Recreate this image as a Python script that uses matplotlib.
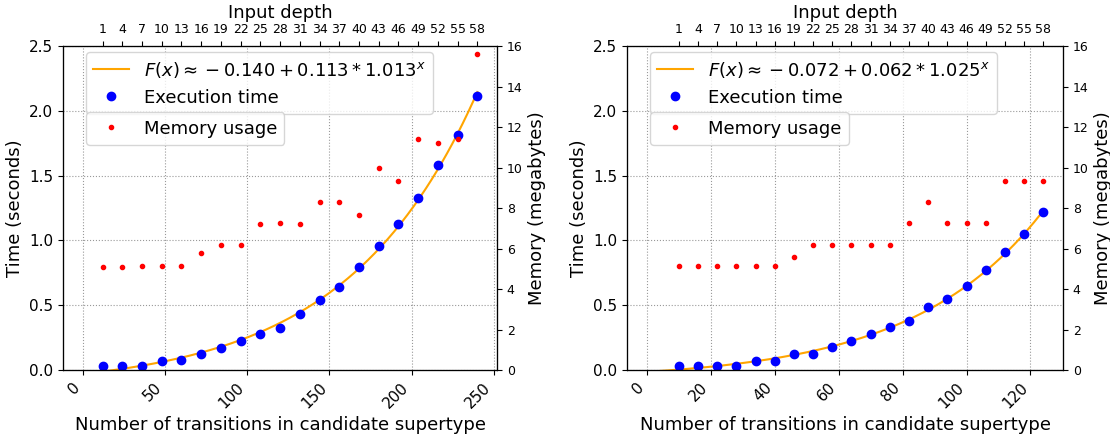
import numpy as np
import matplotlib
matplotlib.use('Agg')
import matplotlib.pyplot as plt

# input depths shown on the top axis (same for both panels)
depth = np.arange(1, 59, 3)

# left panel
trans_left = 4 * depth + 8
time_left = [0.033, 0.028, 0.033, 0.067, 0.077, 0.121, 0.170, 0.224, 0.278, 0.327,
             0.430, 0.540, 0.640, 0.792, 0.959, 1.125, 1.330, 1.579, 1.813, 2.117]
mem_left = [5.09, 5.09, 5.12, 5.12, 5.15, 5.76, 6.17, 6.17, 7.22, 7.24,
            7.23, 8.28, 8.28, 7.67, 9.96, 9.33, 11.41, 11.21, 11.41, 15.6]
label_left = r'$F(x) \approx -0.140 + 0.113 * 1.013^x$'

# right panel
trans_right = 2 * depth + 8
time_right = [0.033, 0.033, 0.028, 0.033, 0.067, 0.067, 0.121, 0.121, 0.175, 0.226,
              0.275, 0.329, 0.381, 0.484, 0.548, 0.648, 0.769, 0.913, 1.047, 1.217]
mem_right = [5.14, 5.14, 5.14, 5.15, 5.15, 5.15, 5.56, 6.19, 6.19, 6.19,
             6.19, 6.19, 7.24, 8.28, 7.24, 7.24, 7.24, 9.33, 9.33, 9.33]
label_right = r'$F(x) \approx -0.072 + 0.062 * 1.025^x$'


def fit_exp(x, y):
    # least squares for a + b*c^x, brute force over c
    x = np.asarray(x, float)
    y = np.asarray(y, float)
    best = None
    for c in np.linspace(1.001, 1.05, 4901):
        A = np.column_stack([np.ones_like(x), c ** x])
        coef, res, _, _ = np.linalg.lstsq(A, y, rcond=None)
        err = np.sum((A @ coef - y) ** 2)
        if best is None or err < best[0]:
            best = (err, coef[0], coef[1], c)
    return best[1:]


def panel(rect, x, t, m, label, xticks):
    ax = fig.add_axes(rect)
    a, b, c = fit_exp(x, t)
    xs = np.linspace(0, x.max(), 300)
    l1, = ax.plot(xs, a + b * c ** xs, color='orange', lw=1.5, label=label)
    l2, = ax.plot(x, t, 'bo', label='Execution time')
    ax.set_ylim(0, 2.5)
    ax.set_xticks(xticks)
    ax.set_ylabel('Time (seconds)', fontsize=13)
    ax.set_xlabel('Number of transitions in candidate supertype', fontsize=13)
    ax.tick_params(axis='y', labelsize=11)
    ax.tick_params(axis='x', labelsize=11)
    plt.setp(ax.get_xticklabels(), rotation=45, ha='right')
    ax.grid(True, linestyle=':', color='gray', alpha=0.8)
    ax.legend(handles=[l1, l2], loc='upper left', bbox_to_anchor=(0.053, 0.98),
              borderaxespad=0, fontsize=13)

    ax2 = ax.twinx()
    l3, = ax2.plot(x, m, 'r.', label='Memory usage')
    ax2.set_ylim(0, 16)
    ax2.set_ylabel('Memory (megabytes)', fontsize=13)
    ax2.tick_params(axis='y', labelsize=9)
    ax2.legend(handles=[l3], loc='upper left', bbox_to_anchor=(0.053, 0.795),
               borderaxespad=0, fontsize=13)

    ax3 = ax.twiny()
    ax3.set_xlim(ax.get_xlim())
    ax3.set_xticks(x)
    ax3.set_xticklabels([str(d) for d in depth])
    ax3.tick_params(axis='x', labelsize=9)
    ax3.set_xlabel('Input depth', fontsize=13)
    return ax


fig = plt.figure(figsize=(11.1, 4.37), dpi=100)
panel([0.0568, 0.1533, 0.391, 0.7414], trans_left, time_left, mem_left, label_left,
      [0, 50, 100, 150, 200, 250])
panel([0.5649, 0.1533, 0.3928, 0.7414], trans_right, time_right, mem_right, label_right,
      [0, 20, 40, 60, 80, 100, 120])
plt.savefig('out.png', dpi=100)
